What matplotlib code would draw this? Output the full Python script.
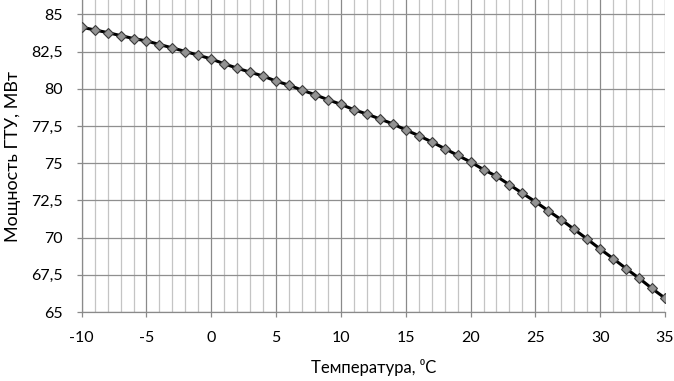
import numpy as np
import matplotlib
matplotlib.use('Agg')
import matplotlib.pyplot as plt
from matplotlib.ticker import MultipleLocator, FuncFormatter

plt.rcParams['font.family'] = ['Lato', 'DejaVu Sans']
plt.rcParams['axes.unicode_minus'] = False

# temperature, deg C
temp = list(range(-10, 36))
# GTU power, MW
power = [84.13, 83.95, 83.77, 83.57, 83.37, 83.21, 82.97, 82.74, 82.50, 82.25,
         82.00, 81.67, 81.38, 81.11, 80.85, 80.51, 80.24, 79.90, 79.60, 79.26,
         78.95, 78.59, 78.30, 77.97, 77.64, 77.23, 76.85, 76.43, 75.98, 75.53,
         75.08, 74.57, 74.12, 73.55, 72.98, 72.41, 71.80, 71.20, 70.55, 69.90,
         69.23, 68.59, 67.92, 67.27, 66.58, 65.93]

y_ticks = [65, 67.5, 70, 72.5, 75, 77.5, 80, 82.5, 85]

fig = plt.figure(figsize=(6.74, 3.81), dpi=100)
ax = fig.add_axes([0.1212, 0.1811, 0.8654, 0.8189])

ax.plot(temp, power, '-', color='black', lw=2.2, zorder=4)
ax.plot(temp, power, 'D', color='#939393', mec='#3a3a3a', mew=0.8, ms=5.0, zorder=5)

ax.set_xlim(-10, 35)
ax.set_ylim(65, 85.96)
ax.xaxis.set_major_locator(MultipleLocator(5))
ax.xaxis.set_minor_locator(MultipleLocator(1))
ax.set_yticks(y_ticks)
ax.yaxis.set_major_formatter(FuncFormatter(lambda v, p: f'{v:g}'.replace('.', ',')))

ax.grid(which='major', axis='x', color='#8a8a8a', lw=0.9)
ax.grid(which='minor', axis='x', color='#c4c4c4', lw=0.9)
ax.grid(which='major', axis='y', color='#8f8f8f', lw=0.9)
ax.set_axisbelow(True)

for s in ['top', 'right']:
    ax.spines[s].set_visible(False)
for s in ['left', 'bottom']:
    ax.spines[s].set_color('#8a8a8a')
    ax.spines[s].set_linewidth(0.9)

ax.tick_params(which='major', length=3.8, width=0.9, color='#8a8a8a',
               labelsize=11.5, labelcolor='black', pad=10)
ax.tick_params(which='minor', length=0)

ax.set_xlabel('Температура, ⁰C', fontsize=12, labelpad=10)
ax.set_ylabel('Мощность ГТУ, МВт', fontsize=13, labelpad=7)

fig.savefig('out.png', dpi=100)
